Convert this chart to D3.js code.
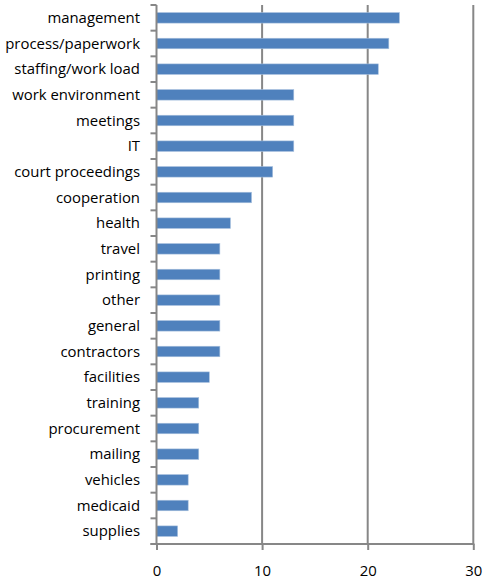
<!DOCTYPE html>
<html><head><meta charset="utf-8">
<script src="https://cdn.jsdelivr.net/npm/d3@7/dist/d3.min.js"></script>
<style>body{margin:0;background:#fff}svg{display:block}</style>
</head><body>
<svg id="c" width="483" height="580"></svg>
<script>
const categories = ["management","process/paperwork","staffing/work load","work environment","meetings","IT","court proceedings","cooperation","health","travel","printing","other","general","contractors","facilities","training","procurement","mailing","vehicles","medicaid","supplies"];
const values = [23,22,21,13,13,13,11,9,7,6,6,6,6,6,5,4,4,4,3,3,2];
const xTicks = [0,10,20,30];

(function(){
const svg = d3.select("#c");
const mL = 156.5, mR = 473.3, mT = 5, mB = 544;
const font = "'Open Sans', sans-serif";
const x = d3.scaleLinear().domain([0,30]).range([mL,mR]);
const y = d3.scaleBand().domain(categories).range([mT,mB]).paddingInner(0.59).paddingOuter(0.295);

svg.append("g").selectAll("line").data(xTicks.filter(d=>d>0)).join("line")
  .attr("x1",d=>x(d)).attr("x2",d=>x(d)).attr("y1",mT).attr("y2",mB)
  .attr("stroke","#878787").attr("stroke-width",2);

svg.append("g").selectAll("rect").data(categories).join("rect")
  .attr("x",x(0)).attr("y",d=>y(d)).attr("height",y.bandwidth())
  .attr("width",(d,i)=>x(values[i])-x(0))
  .attr("fill","#4F81BD").attr("stroke","#A7C0DE").attr("stroke-width",0.6);

const yb = d3.scaleLinear().domain([0,categories.length]).range([mT,mB]);
svg.append("g").selectAll("line").data(d3.range(categories.length+1)).join("line")
  .attr("x1",mL-6).attr("x2",mL).attr("y1",d=>yb(d)).attr("y2",d=>yb(d))
  .attr("stroke","#878787").attr("stroke-width",2);
svg.append("line").attr("x1",mL).attr("x2",mL).attr("y1",mT).attr("y2",mB+1)
  .attr("stroke","#878787").attr("stroke-width",2);
const labels = svg.append("g").selectAll("text").data(categories).join("text")
  .attr("x",140).attr("y",d=>y(d)+y.bandwidth()/2).attr("dy","0.35em")
  .attr("text-anchor","end").attr("font-family",font).attr("font-size",14.5)
  .attr("fill","#000").text(d=>d);
const w = labels.nodes()[1].getComputedTextLength();
const fs = 14.5 * 135 / w;
labels.attr("font-size", fs);

svg.append("line").attr("x1",mL-6).attr("x2",mR+1).attr("y1",mB).attr("y2",mB)
  .attr("stroke","#878787").attr("stroke-width",2);
const xg = svg.append("g").attr("transform",`translate(0,${mB})`)
  .call(d3.axisBottom(x).tickValues(xTicks).tickSize(6).tickFormat(d3.format("d")));
xg.select(".domain").remove();
xg.selectAll("line").attr("stroke","#878787").attr("stroke-width",2);
xg.selectAll("text").attr("font-family",font).attr("font-size",fs).attr("fill","#000")
  .attr("y",32).attr("dy",0);
})();
</script>
</body></html>
